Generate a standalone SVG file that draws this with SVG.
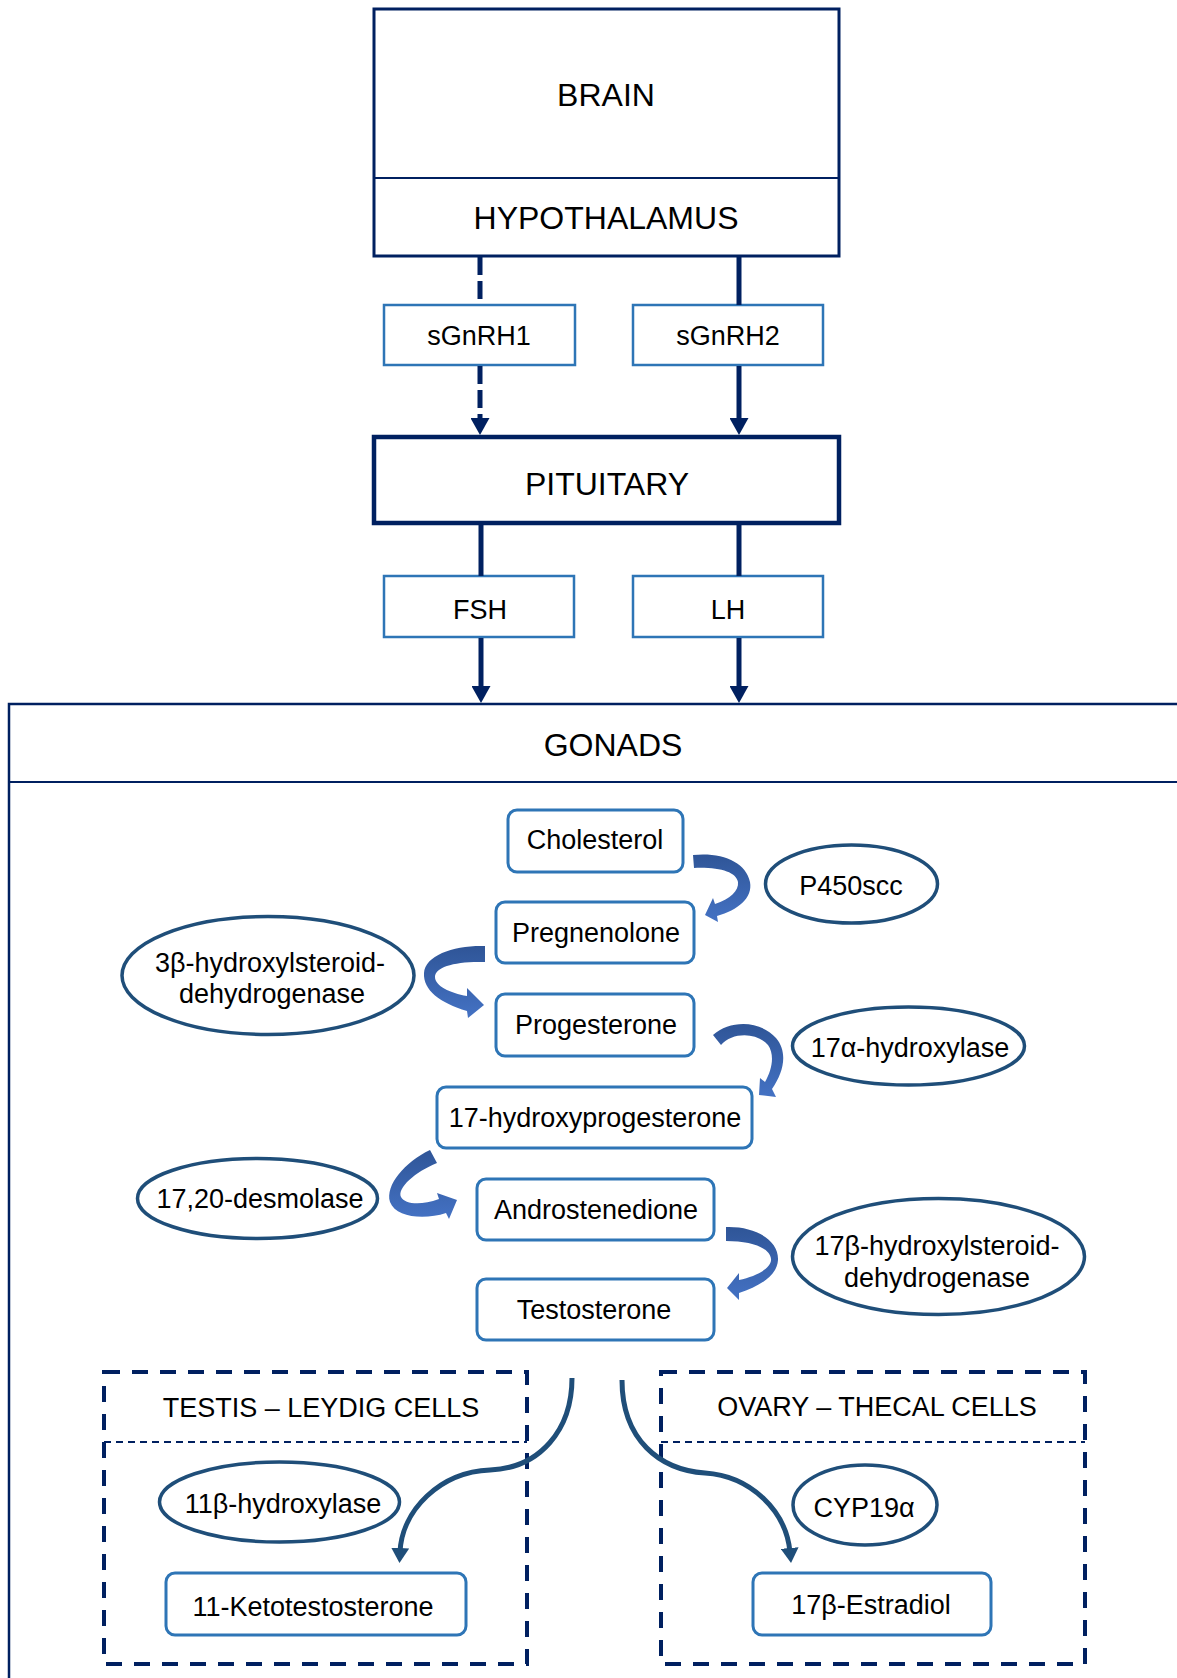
<svg xmlns="http://www.w3.org/2000/svg" width="1177" height="1678" viewBox="0 0 1177 1678">
<defs>
<style>
text{font-family:"Liberation Sans",Arial,sans-serif;fill:#000;text-anchor:middle}
.big{font-size:32px}
.t{font-size:27px}
.navy{fill:#fff;stroke:#002060}
.hbox{fill:#fff;stroke:#2E75B6;stroke-width:2.5}
.sbox{fill:#fff;stroke:#2E75B6;stroke-width:3}
.enz{fill:#fff;stroke:#1F4E79;stroke-width:3.5}
.cell{fill:none;stroke:#002060;stroke-width:4;stroke-dasharray:16 12}
.cdiv{fill:none;stroke:#002060;stroke-width:2;stroke-dasharray:7 5}
.link{fill:none;stroke:#002060;stroke-width:5}
.dash{stroke-dasharray:18 6}
.curve{fill:none;stroke:#1F4E79;stroke-width:5}
.arc{fill:url(#arcGrad);stroke:none}
</style>
<linearGradient id="arcGrad" x1="0" y1="0" x2="0" y2="1">
<stop offset="0" stop-color="#2F5597"/>
<stop offset="1" stop-color="#4472C4"/>
</linearGradient>
<marker id="headNavy" viewBox="0 0 17 19" refX="3" refY="9.5" markerWidth="17" markerHeight="19" markerUnits="userSpaceOnUse" orient="auto">
<path d="M0 0 L17 9.5 L0 19 Z" fill="#002060"/>
</marker>
<marker id="headCurve" viewBox="0 0 15 18" refX="4" refY="9" markerWidth="15" markerHeight="18" markerUnits="userSpaceOnUse" orient="auto">
<path d="M0 0 L15 9 L0 18 Z" fill="#1F4E79"/>
</marker>
</defs>
<rect width="1177" height="1678" fill="#fff"/>

<g id="brain">
<rect class="navy" x="374" y="9" width="465" height="247" stroke-width="3"/>
<text class="big" x="606" y="106">BRAIN</text>
</g>
<g id="hypothalamus">
<line x1="374" y1="178" x2="839" y2="178" stroke="#002060" stroke-width="2"/>
<text class="big" x="606" y="229">HYPOTHALAMUS</text>
</g>
<g id="sgnrh1">
<rect class="hbox" x="384" y="305" width="191" height="60"/>
<text class="t" x="479" y="345">sGnRH1</text>
</g>
<g id="sgnrh2">
<rect class="hbox" x="633" y="305" width="190" height="60"/>
<text class="t" x="728" y="345">sGnRH2</text>
</g>
<g id="pituitary">
<rect class="navy" x="374" y="437" width="465" height="86" stroke-width="4.5"/>
<text class="big" x="607" y="495">PITUITARY</text>
</g>
<g id="fsh">
<rect class="hbox" x="384" y="576" width="190" height="61"/>
<text class="t" x="480" y="619">FSH</text>
</g>
<g id="lh">
<rect class="hbox" x="633" y="576" width="190" height="61"/>
<text class="t" x="728" y="619">LH</text>
</g>
<g id="gonads">
<rect class="navy" x="9" y="704" width="1220" height="1000" stroke-width="2.5"/>
<line x1="9" y1="782" x2="1177" y2="782" stroke="#002060" stroke-width="2"/>
<text class="big" x="613" y="756">GONADS</text>
</g>

<g id="cholesterol">
<rect class="sbox" x="508" y="810" width="175" height="62" rx="9"/>
<text class="t" x="595" y="849">Cholesterol</text>
</g>
<g id="p450scc">
<ellipse class="enz" cx="851.5" cy="884" rx="86" ry="39"/>
<text class="t" x="851" y="895">P450scc</text>
</g>
<g id="pregnenolone">
<rect class="sbox" x="496" y="902" width="198" height="61" rx="9"/>
<text class="t" x="596" y="942">Pregnenolone</text>
</g>
<g id="hsd3b">
<ellipse class="enz" cx="268" cy="975.5" rx="146" ry="59"/>
<text class="t" x="270" y="972">3β-hydroxylsteroid-</text>
<text class="t" x="272" y="1003">dehydrogenase</text>
</g>
<g id="progesterone">
<rect class="sbox" x="496" y="994" width="198" height="62" rx="9"/>
<text class="t" x="596" y="1034">Progesterone</text>
</g>
<g id="hydroxylase17a">
<ellipse class="enz" cx="908.5" cy="1046" rx="116" ry="39"/>
<text class="t" x="910" y="1057">17α-hydroxylase</text>
</g>
<g id="ohprogesterone">
<rect class="sbox" x="437" y="1087" width="315" height="61" rx="9"/>
<text class="t" x="595" y="1127">17-hydroxyprogesterone</text>
</g>
<g id="desmolase">
<ellipse class="enz" cx="257.5" cy="1198.5" rx="120" ry="40"/>
<text class="t" x="260" y="1208">17,20-desmolase</text>
</g>
<g id="androstenedione">
<rect class="sbox" x="477" y="1179" width="237" height="61" rx="9"/>
<text class="t" x="596" y="1219">Androstenedione</text>
</g>
<g id="hsd17b">
<ellipse class="enz" cx="938.5" cy="1256.5" rx="146" ry="58"/>
<text class="t" x="937" y="1255">17β-hydroxylsteroid-</text>
<text class="t" x="937" y="1287">dehydrogenase</text>
</g>
<g id="testosterone">
<rect class="sbox" x="477" y="1279" width="237" height="61" rx="9"/>
<text class="t" x="594" y="1319">Testosterone</text>
</g>

<g id="testis">
<rect class="cell" x="104" y="1372" width="423" height="292"/>
<line class="cdiv" x1="104" y1="1442" x2="527" y2="1442"/>
<text class="t" x="321" y="1417">TESTIS – LEYDIG CELLS</text>
</g>
<g id="hydroxylase11b">
<ellipse class="enz" cx="279.5" cy="1502" rx="120" ry="40"/>
<text class="t" x="283" y="1513">11β-hydroxylase</text>
</g>
<g id="ketotestosterone">
<rect class="sbox" x="166" y="1573" width="300" height="62" rx="9"/>
<text class="t" x="313" y="1616">11-Ketotestosterone</text>
</g>
<g id="ovary">
<rect class="cell" x="661" y="1372" width="424" height="292"/>
<line class="cdiv" x1="661" y1="1442" x2="1085" y2="1442"/>
<text class="t" x="877" y="1416">OVARY – THECAL CELLS</text>
</g>
<g id="cyp19a">
<ellipse class="enz" cx="865" cy="1505" rx="72" ry="40"/>
<text class="t" x="864" y="1517">CYP19α</text>
</g>
<g id="estradiol">
<rect class="sbox" x="753" y="1573" width="238" height="62" rx="9"/>
<text class="t" x="871" y="1614">17β-Estradiol</text>
</g>

<g id="connectors">
<line class="link dash" x1="480" y1="257" x2="480" y2="305"/>
<line class="link dash" x1="480" y1="366" x2="480" y2="421" marker-end="url(#headNavy)"/>
<line class="link" x1="739" y1="257" x2="739" y2="305"/>
<line class="link" x1="739" y1="366" x2="739" y2="421" marker-end="url(#headNavy)"/>
<line class="link" x1="481" y1="525" x2="481" y2="576"/>
<line class="link" x1="481" y1="638" x2="481" y2="689" marker-end="url(#headNavy)"/>
<line class="link" x1="739" y1="525" x2="739" y2="576"/>
<line class="link" x1="739" y1="638" x2="739" y2="689" marker-end="url(#headNavy)"/>
<path class="arc" d="M693 855 C722 852 746 862 750 882 C753 898 738 910 717 916 L718 922 L705 915 L713 898 L715 904 C730 899 739 891 738 882 C736 872 720 867 694 868 Z"/>
<path class="arc" d="M485 946 C455 945 425 955 424 973 C423 990 440 1003 467 1011 L468 1018 L484 1005 L467 988 L467 996 C450 993 435 986 435 977 C435 967 455 961 485 962 Z"/>
<path class="arc" d="M713 1035 C730 1020 760 1020 776 1038 C788 1052 784 1072 772 1089 L776 1097 L759 1095 L760 1078 L765 1082 C772 1070 775 1055 768 1045 C757 1032 732 1032 721 1045 Z"/>
<path class="arc" d="M430 1150 C405 1162 385 1185 390 1202 C396 1218 425 1220 446 1213 L449 1219 L457 1200 L437 1193 L439 1199 C420 1206 405 1204 401 1197 C397 1188 415 1172 437 1163 Z"/>
<path class="arc" d="M726 1227 C755 1226 779 1240 778 1260 C777 1276 760 1286 739 1293 L739 1300 L727 1288 L739 1273 L739 1280 C757 1276 772 1268 771 1259 C770 1248 752 1241 726 1241 Z"/>
<path class="curve" d="M572 1378 C572 1430 540 1468 490 1470 C440 1472 402 1510 400 1552" marker-end="url(#headCurve)"/>
<path class="curve" d="M622 1380 C622 1440 660 1470 705 1473 C750 1476 786 1510 790 1552" marker-end="url(#headCurve)"/>
</g>
</svg>
